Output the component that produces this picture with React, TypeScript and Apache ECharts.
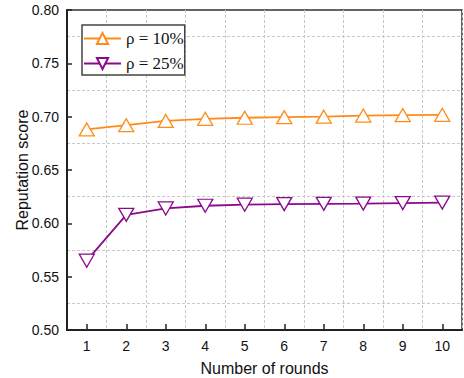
import React, { useEffect, useRef } from "react";
import * as echarts from "echarts";

const rounds = ["1", "2", "3", "4", "5", "6", "7", "8", "9", "10"];
const rho10 = [0.688, 0.692, 0.696, 0.698, 0.699, 0.6995, 0.7, 0.701, 0.7015, 0.7017];
const rho25 = [0.565, 0.608, 0.614, 0.6165, 0.6175, 0.618, 0.6183, 0.6185, 0.619, 0.6195];
const seriesNames = ["ρ = 10%", "ρ = 25%"];
const orange = "#FF8C1A";
const purple = "#8B0A8B";

export default function App() {
  const ref = useRef<HTMLDivElement>(null);
  useEffect(() => {
    const chart = echarts.init(ref.current!, undefined, { renderer: "svg" });
    const sans = "Liberation Sans";
    const axisFont = { fontFamily: sans, fontSize: 14, color: "#111" };
    chart.setOption({
      animation: false,
      backgroundColor: "#fff",
      grid: {
        left: 67,
        right: 2,
        top: 10,
        bottom: 48,
        outerBoundsMode: "none",
        containLabel: false,
        show: true,
        borderColor: "#333",
        borderWidth: 1.5,
      },
      legend: {
        left: 82,
        top: 25,
        orient: "vertical",
        data: seriesNames,
        itemWidth: 37,
        itemHeight: 14,
        itemGap: 8,
        padding: [5, 1, 3, 1],
        borderColor: "#444",
        borderWidth: 1.5,
        backgroundColor: "#fff",
        textStyle: { fontFamily: "Liberation Serif", fontSize: 17, color: "#111" },
      },
      xAxis: {
        type: "category",
        data: rounds,
        boundaryGap: true,
        name: "Number of rounds",
        nameLocation: "middle",
        nameGap: 30,
        nameMoveOverlap: false,
        nameTextStyle: { fontFamily: sans, fontSize: 16, color: "#111" },
        axisLine: { lineStyle: { color: "#222", width: 2 } },
        axisTick: { show: true, inside: true, length: 6, alignWithLabel: true, lineStyle: { color: "#222", width: 1.5 } },
        axisLabel: { ...axisFont, margin: 9 },
        splitLine: { show: true, lineStyle: { color: "#c8c8c8", type: [3, 2], width: 1 } },
      },
      yAxis: {
        type: "value",
        min: 0.5,
        max: 0.8,
        interval: 0.05,
        name: "Reputation score",
        nameLocation: "middle",
        nameGap: 37,
        nameMoveOverlap: false,
        nameTextStyle: { fontFamily: sans, fontSize: 16, color: "#111" },
        axisLine: { show: true, lineStyle: { color: "#222", width: 2 } },
        axisTick: { show: true, inside: true, length: 5, lineStyle: { color: "#222", width: 1.5 } },
        axisLabel: { ...axisFont, margin: 8, formatter: (v: number) => v.toFixed(2) },
        splitLine: { show: false },
        minorTick: { show: false, splitNumber: 2 },
        minorSplitLine: { show: true, lineStyle: { color: "#c8c8c8", type: [3, 2], width: 1 } },
      },
      series: [
        {
          name: seriesNames[0],
          type: "line",
          data: rho10,
          symbol: "triangle",
          symbolSize: [15, 13],
          lineStyle: { color: orange, width: 1.8 },
          itemStyle: { color: "#fff", borderColor: orange, borderWidth: 1.3 },
          z: 3,
        },
        {
          name: seriesNames[1],
          type: "line",
          data: rho25,
          symbol: "triangle",
          symbolRotate: 180,
          symbolSize: [15, 13],
          lineStyle: { color: purple, width: 1.8 },
          itemStyle: { color: "#fff", borderColor: purple, borderWidth: 1.3 },
          z: 3,
        },
      ],
    });
    return () => chart.dispose();
  }, []);
  return <div ref={ref} style={{ width: 464, height: 378, position: "absolute", left: 0, top: 0 }} />;
}
